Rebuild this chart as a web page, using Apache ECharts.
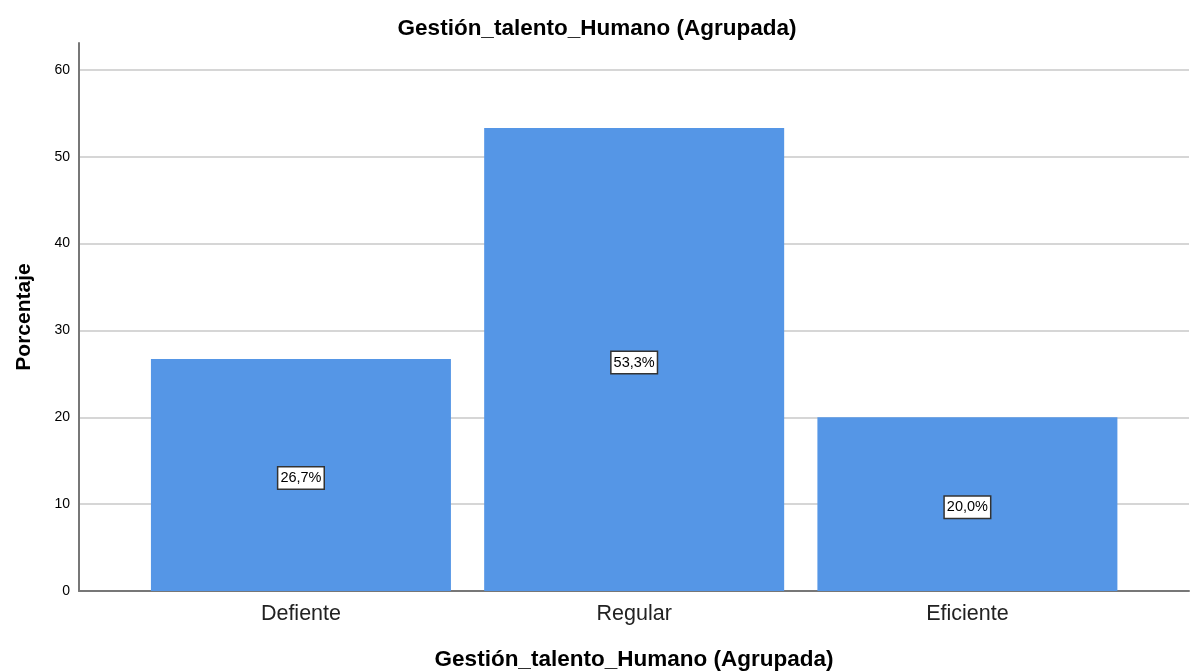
<!DOCTYPE html>
<html>
<head>
<meta charset="utf-8">
<script src="https://cdn.jsdelivr.net/npm/echarts@6/dist/echarts.min.js"></script>
<style>
  html, body { margin: 0; padding: 0; background: #fff; }
  #chart { width: 1194px; height: 671px; }
</style>
</head>
<body>
<div id="chart"></div>
<script>
// categories and percentages
let categories = ['Defiente', 'Regular', 'Eficiente'];
let percentages = [26.7, 53.3, 20.0];
let yTicks = [0, 10, 20, 30, 40, 50, 60];

let barColor = '#5596e6';
let font = 'Arial, "Liberation Sans", sans-serif';

let myChart = echarts.init(document.getElementById('chart'));

let option = {
  animation: false,
  title: {
    text: 'Gestión_talento_Humano (Agrupada)',
    left: 'center',
    top: 12,
    textStyle: {fontFamily: font, fontSize: 22.5, fontWeight: 'bold', color: '#000'}
  },
  grid: {left: 79, right: 5, top: 43, bottom: 80, outerBoundsMode: 'none', containLabel: false},
  xAxis: {
    type: 'value',
    min: 0.334,
    max: 3.665,
    name: 'Gestión_talento_Humano (Agrupada)',
    nameLocation: 'middle',
    nameGap: 57,
    nameTextStyle: {fontFamily: font, fontSize: 22.5, fontWeight: 'bold', color: '#000'},
    axisLine: {show: true, lineStyle: {color: '#777', width: 2}},
    axisTick: {show: false},
    splitLine: {show: false},
    axisLabel: {
      customValues: [1, 2, 3],
      formatter: function (v) {
        return categories[Math.round(v) - 1] || '';
      },
      margin: 12,
      fontFamily: font,
      fontSize: 21.5,
      color: '#222'
    }
  },
  yAxis: {
    type: 'value',
    min: 0,
    max: 63.1,
    interval: 10,
    name: 'Porcentaje',
    nameLocation: 'middle',
    nameGap: 44,
    nameTextStyle: {fontFamily: font, fontSize: 21, fontWeight: 'bold', color: '#000'},
    axisLine: {show: true, lineStyle: {color: '#777', width: 2}},
    axisTick: {show: false},
    splitLine: {show: true, showMaxLine: false, lineStyle: {color: '#d6d6d6', width: 2}},
    axisLabel: {
      customValues: yTicks,
      margin: 9,
      fontFamily: font,
      fontSize: 14,
      color: '#000'
    }
  },
  series: [
    {
      type: 'bar',
      barWidth: 300,
      data: percentages.map(function (v, i) { return [i + 1, v]; }),
      itemStyle: {color: barColor},
      label: {
        show: true,
        position: 'inside',
        offset: [0, 3],
        formatter: function (p) {
          return p.value[1].toFixed(1).replace('.', ',') + '%';
        },
        fontFamily: font,
        fontSize: 14.5,
        color: '#000',
        backgroundColor: '#fff',
        borderColor: '#333',
        borderWidth: 1.5,
        padding: [4, 2, 2, 2]
      }
    }
  ]
};

myChart.setOption(option);
</script>
</body>
</html>
